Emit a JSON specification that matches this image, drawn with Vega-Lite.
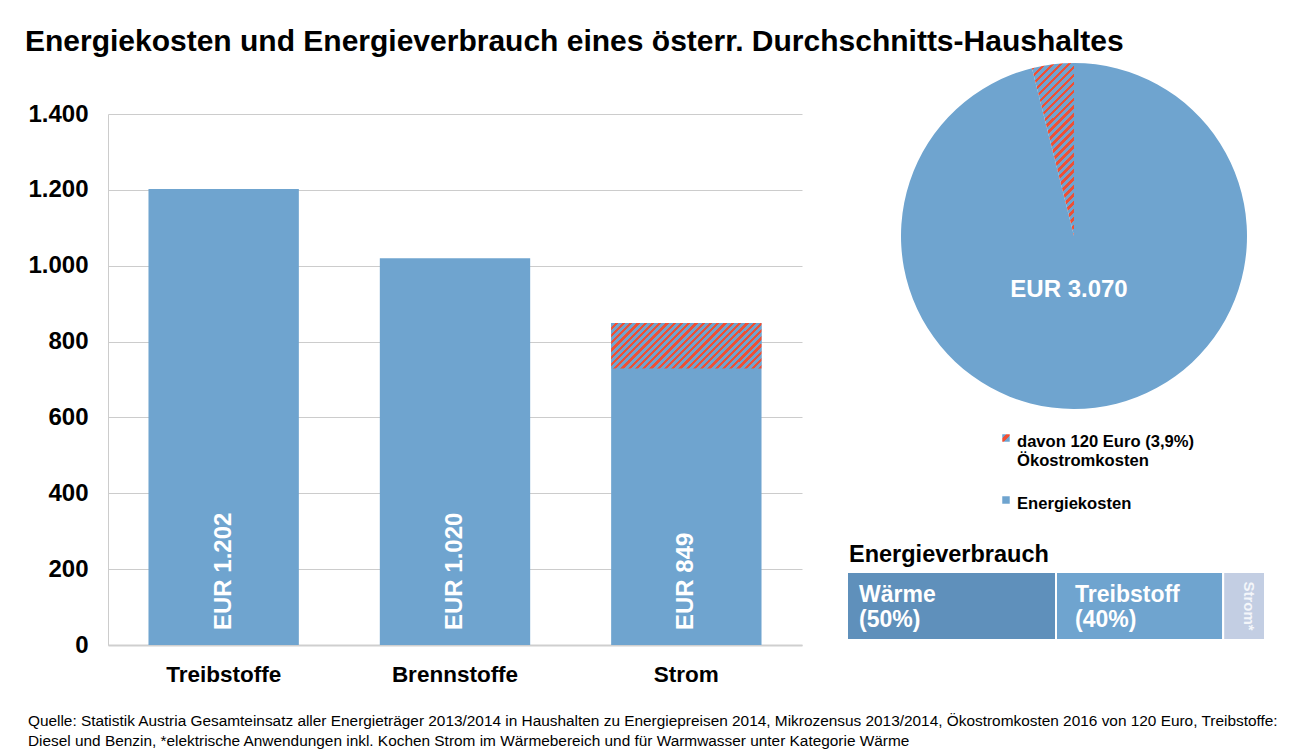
{
  "$schema": "https://vega.github.io/schema/vega-lite/v6.json",
  "padding": {"left": 24, "top": 27, "right": 0, "bottom": 0},
  "background": "white",
  "config": {
    "font": "Liberation Sans",
    "view": {"stroke": null},
    "axis": {"labelFont": "Liberation Sans", "labelColor": "black"}
  },
  "title": {
    "text": "Energiekosten und Energieverbrauch eines österr. Durchschnitts-Haushaltes",
    "anchor": "start",
    "frame": "bounds",
    "font": "Liberation Sans",
    "fontSize": 30,
    "fontWeight": "bold",
    "color": "black",
    "offset": 6,
    "dx": -3
  },
  "datasets": {
    "kosten": [
      {"kat": "Treibstoffe", "wert": 1202, "label": "EUR 1.202"},
      {"kat": "Brennstoffe", "wert": 1020, "label": "EUR 1.020"},
      {"kat": "Strom", "wert": 849, "label": "EUR 849"}
    ],
    "oeko_bar": [{"kat": "Strom", "von": 729, "bis": 849}],
    "pie": [
      {"k": "Energiekosten", "wert": 2950},
      {"k": "Ökostromkosten", "wert": 120}
    ],
    "summe": [{"t": "EUR 3.070"}],
    "legende": [
      {"k": "Ökostromkosten", "label": "davon 120 Euro (3,9%)\nÖkostromkosten"},
      {"k": "Energiekosten", "label": "Energiekosten"}
    ],
    "ev": [
      {"k": "Wärme", "wert": 50, "o": 1, "label": "Wärme\n(50%)"},
      {"k": "Treibstoff", "wert": 40, "o": 2, "label": "Treibstoff\n(40%)"},
      {"k": "Strom", "wert": 10, "o": 3, "label": "Strom*"}
    ]
  },
  "bounds": "flush",
  "spacing": 45,
  "hconcat": [
    {
      "width": 694,
      "height": 531,
      "title": {
        "text": [
          "Quelle: Statistik Austria Gesamteinsatz aller Energieträger 2013/2014 in Haushalten zu Energiepreisen 2014, Mikrozensus 2013/2014, Ökostromkosten 2016 von 120 Euro, Treibstoffe:",
          "Diesel und Benzin, *elektrische Anwendungen inkl. Kochen Strom im Wärmebereich und für Warmwasser unter Kategorie Wärme"
        ],
        "orient": "bottom",
        "anchor": "start",
        "frame": "bounds",
        "font": "Liberation Sans",
        "fontSize": 15.4,
        "fontWeight": "normal",
        "lineHeight": 20,
        "color": "black",
        "offset": 28
      },
      "layer": [
        {
          "data": {"name": "kosten"},
          "mark": {"type": "bar", "color": "#6fa4cf"},
          "encoding": {
            "x": {
              "field": "kat", "type": "nominal",
              "scale": {"domain": ["Treibstoffe", "Brennstoffe", "Strom"], "paddingInner": 0.35, "paddingOuter": 0.175},
              "axis": {"title": null, "labelAngle": 0, "labelFontSize": 22.5, "labelFontWeight": "bold", "labelPadding": 18, "ticks": false, "domainColor": "#cfcfcf", "domainWidth": 2}
            },
            "y": {
              "field": "wert", "type": "quantitative",
              "scale": {"domain": [0, 1400], "nice": false},
              "axis": {"title": null, "values": [0, 200, 400, 600, 800, 1000, 1200, 1400], "labelExpr": "replace(format(datum.value, ','), ',', '.')", "labelFontSize": 24, "labelFontWeight": "bold", "labelPadding": 20, "ticks": false, "gridColor": "#cccccc", "domainColor": "#cccccc"}
            }
          }
        },
        {
          "data": {"name": "oeko_bar"},
          "mark": {
            "type": "bar",
            "fill": {
              "gradient": "linear", "x1": 0, "y1": 0, "x2": 1.1934, "y2": 0.3617,
              "stops": [
{"offset":0,"color":"#6fa4cf"},{"offset":0.0204,"color":"#6fa4cf"},{"offset":0.0204,"color":"#ef5035"},{"offset":0.037,"color":"#ef5035"},
{"offset":0.037,"color":"#6fa4cf"},{"offset":0.0574,"color":"#6fa4cf"},{"offset":0.0574,"color":"#ef5035"},{"offset":0.0741,"color":"#ef5035"},
{"offset":0.0741,"color":"#6fa4cf"},{"offset":0.0944,"color":"#6fa4cf"},{"offset":0.0944,"color":"#ef5035"},{"offset":0.1111,"color":"#ef5035"},
{"offset":0.1111,"color":"#6fa4cf"},{"offset":0.1315,"color":"#6fa4cf"},{"offset":0.1315,"color":"#ef5035"},{"offset":0.1481,"color":"#ef5035"},
{"offset":0.1481,"color":"#6fa4cf"},{"offset":0.1685,"color":"#6fa4cf"},{"offset":0.1685,"color":"#ef5035"},{"offset":0.1852,"color":"#ef5035"},
{"offset":0.1852,"color":"#6fa4cf"},{"offset":0.2056,"color":"#6fa4cf"},{"offset":0.2056,"color":"#ef5035"},{"offset":0.2222,"color":"#ef5035"},
{"offset":0.2222,"color":"#6fa4cf"},{"offset":0.2426,"color":"#6fa4cf"},{"offset":0.2426,"color":"#ef5035"},{"offset":0.2593,"color":"#ef5035"},
{"offset":0.2593,"color":"#6fa4cf"},{"offset":0.2796,"color":"#6fa4cf"},{"offset":0.2796,"color":"#ef5035"},{"offset":0.2963,"color":"#ef5035"},
{"offset":0.2963,"color":"#6fa4cf"},{"offset":0.3167,"color":"#6fa4cf"},{"offset":0.3167,"color":"#ef5035"},{"offset":0.3333,"color":"#ef5035"},
{"offset":0.3333,"color":"#6fa4cf"},{"offset":0.3537,"color":"#6fa4cf"},{"offset":0.3537,"color":"#ef5035"},{"offset":0.3704,"color":"#ef5035"},
{"offset":0.3704,"color":"#6fa4cf"},{"offset":0.3907,"color":"#6fa4cf"},{"offset":0.3907,"color":"#ef5035"},{"offset":0.4074,"color":"#ef5035"},
{"offset":0.4074,"color":"#6fa4cf"},{"offset":0.4278,"color":"#6fa4cf"},{"offset":0.4278,"color":"#ef5035"},{"offset":0.4444,"color":"#ef5035"},
{"offset":0.4444,"color":"#6fa4cf"},{"offset":0.4648,"color":"#6fa4cf"},{"offset":0.4648,"color":"#ef5035"},{"offset":0.4815,"color":"#ef5035"},
{"offset":0.4815,"color":"#6fa4cf"},{"offset":0.5019,"color":"#6fa4cf"},{"offset":0.5019,"color":"#ef5035"},{"offset":0.5185,"color":"#ef5035"},
{"offset":0.5185,"color":"#6fa4cf"},{"offset":0.5389,"color":"#6fa4cf"},{"offset":0.5389,"color":"#ef5035"},{"offset":0.5556,"color":"#ef5035"},
{"offset":0.5556,"color":"#6fa4cf"},{"offset":0.5759,"color":"#6fa4cf"},{"offset":0.5759,"color":"#ef5035"},{"offset":0.5926,"color":"#ef5035"},
{"offset":0.5926,"color":"#6fa4cf"},{"offset":0.613,"color":"#6fa4cf"},{"offset":0.613,"color":"#ef5035"},{"offset":0.6296,"color":"#ef5035"},
{"offset":0.6296,"color":"#6fa4cf"},{"offset":0.65,"color":"#6fa4cf"},{"offset":0.65,"color":"#ef5035"},{"offset":0.6667,"color":"#ef5035"},
{"offset":0.6667,"color":"#6fa4cf"},{"offset":0.687,"color":"#6fa4cf"},{"offset":0.687,"color":"#ef5035"},{"offset":0.7037,"color":"#ef5035"},
{"offset":0.7037,"color":"#6fa4cf"},{"offset":0.7241,"color":"#6fa4cf"},{"offset":0.7241,"color":"#ef5035"},{"offset":0.7407,"color":"#ef5035"},
{"offset":0.7407,"color":"#6fa4cf"},{"offset":0.7611,"color":"#6fa4cf"},{"offset":0.7611,"color":"#ef5035"},{"offset":0.7778,"color":"#ef5035"},
{"offset":0.7778,"color":"#6fa4cf"},{"offset":0.7981,"color":"#6fa4cf"},{"offset":0.7981,"color":"#ef5035"},{"offset":0.8148,"color":"#ef5035"},
{"offset":0.8148,"color":"#6fa4cf"},{"offset":0.8352,"color":"#6fa4cf"},{"offset":0.8352,"color":"#ef5035"},{"offset":0.8519,"color":"#ef5035"},
{"offset":0.8519,"color":"#6fa4cf"},{"offset":0.8722,"color":"#6fa4cf"},{"offset":0.8722,"color":"#ef5035"},{"offset":0.8889,"color":"#ef5035"},
{"offset":0.8889,"color":"#6fa4cf"},{"offset":0.9093,"color":"#6fa4cf"},{"offset":0.9093,"color":"#ef5035"},{"offset":0.9259,"color":"#ef5035"},
{"offset":0.9259,"color":"#6fa4cf"},{"offset":0.9463,"color":"#6fa4cf"},{"offset":0.9463,"color":"#ef5035"},{"offset":0.963,"color":"#ef5035"},
{"offset":0.963,"color":"#6fa4cf"},{"offset":0.9833,"color":"#6fa4cf"},{"offset":0.9833,"color":"#ef5035"},{"offset":1,"color":"#ef5035"}
              ]
            }
          },
          "encoding": {
            "x": {"field": "kat", "type": "nominal"},
            "y": {"field": "von", "type": "quantitative"},
            "y2": {"field": "bis"}
          }
        },
        {
          "data": {"name": "kosten"},
          "mark": {"type": "text", "angle": 270, "align": "left", "baseline": "middle", "dx": 15, "font": "Liberation Sans", "fontSize": 24, "fontWeight": "bold", "color": "white"},
          "encoding": {
            "x": {"field": "kat", "type": "nominal"},
            "y": {"datum": 0, "type": "quantitative"},
            "text": {"field": "label"}
          }
        }
      ]
    },
    {
      "bounds": "flush",
      "spacing": 80,
      "vconcat": [
        {
          "width": 454,
          "height": 244,
          "layer": [
            {
              "data": {"name": "pie"},
              "mark": {"type": "arc", "outerRadius": 173},
              "encoding": {
                "theta": {"field": "wert", "type": "quantitative", "stack": true},
                "order": {"field": "k", "sort": "ascending"},
                "color": {
                  "condition": {
                    "test": "datum.k === 'Ökostromkosten'",
                    "value": {
                      "gradient": "linear", "x1": 0, "y1": 0, "x2": 0.2849, "y2": 1.1734,
                      "stops": [
{"offset":0,"color":"#6fa4cf"},{"offset":0.0204,"color":"#6fa4cf"},{"offset":0.0204,"color":"#ef5035"},{"offset":0.037,"color":"#ef5035"},
{"offset":0.037,"color":"#6fa4cf"},{"offset":0.0574,"color":"#6fa4cf"},{"offset":0.0574,"color":"#ef5035"},{"offset":0.0741,"color":"#ef5035"},
{"offset":0.0741,"color":"#6fa4cf"},{"offset":0.0944,"color":"#6fa4cf"},{"offset":0.0944,"color":"#ef5035"},{"offset":0.1111,"color":"#ef5035"},
{"offset":0.1111,"color":"#6fa4cf"},{"offset":0.1315,"color":"#6fa4cf"},{"offset":0.1315,"color":"#ef5035"},{"offset":0.1481,"color":"#ef5035"},
{"offset":0.1481,"color":"#6fa4cf"},{"offset":0.1685,"color":"#6fa4cf"},{"offset":0.1685,"color":"#ef5035"},{"offset":0.1852,"color":"#ef5035"},
{"offset":0.1852,"color":"#6fa4cf"},{"offset":0.2056,"color":"#6fa4cf"},{"offset":0.2056,"color":"#ef5035"},{"offset":0.2222,"color":"#ef5035"},
{"offset":0.2222,"color":"#6fa4cf"},{"offset":0.2426,"color":"#6fa4cf"},{"offset":0.2426,"color":"#ef5035"},{"offset":0.2593,"color":"#ef5035"},
{"offset":0.2593,"color":"#6fa4cf"},{"offset":0.2796,"color":"#6fa4cf"},{"offset":0.2796,"color":"#ef5035"},{"offset":0.2963,"color":"#ef5035"},
{"offset":0.2963,"color":"#6fa4cf"},{"offset":0.3167,"color":"#6fa4cf"},{"offset":0.3167,"color":"#ef5035"},{"offset":0.3333,"color":"#ef5035"},
{"offset":0.3333,"color":"#6fa4cf"},{"offset":0.3537,"color":"#6fa4cf"},{"offset":0.3537,"color":"#ef5035"},{"offset":0.3704,"color":"#ef5035"},
{"offset":0.3704,"color":"#6fa4cf"},{"offset":0.3907,"color":"#6fa4cf"},{"offset":0.3907,"color":"#ef5035"},{"offset":0.4074,"color":"#ef5035"},
{"offset":0.4074,"color":"#6fa4cf"},{"offset":0.4278,"color":"#6fa4cf"},{"offset":0.4278,"color":"#ef5035"},{"offset":0.4444,"color":"#ef5035"},
{"offset":0.4444,"color":"#6fa4cf"},{"offset":0.4648,"color":"#6fa4cf"},{"offset":0.4648,"color":"#ef5035"},{"offset":0.4815,"color":"#ef5035"},
{"offset":0.4815,"color":"#6fa4cf"},{"offset":0.5019,"color":"#6fa4cf"},{"offset":0.5019,"color":"#ef5035"},{"offset":0.5185,"color":"#ef5035"},
{"offset":0.5185,"color":"#6fa4cf"},{"offset":0.5389,"color":"#6fa4cf"},{"offset":0.5389,"color":"#ef5035"},{"offset":0.5556,"color":"#ef5035"},
{"offset":0.5556,"color":"#6fa4cf"},{"offset":0.5759,"color":"#6fa4cf"},{"offset":0.5759,"color":"#ef5035"},{"offset":0.5926,"color":"#ef5035"},
{"offset":0.5926,"color":"#6fa4cf"},{"offset":0.613,"color":"#6fa4cf"},{"offset":0.613,"color":"#ef5035"},{"offset":0.6296,"color":"#ef5035"},
{"offset":0.6296,"color":"#6fa4cf"},{"offset":0.65,"color":"#6fa4cf"},{"offset":0.65,"color":"#ef5035"},{"offset":0.6667,"color":"#ef5035"},
{"offset":0.6667,"color":"#6fa4cf"},{"offset":0.687,"color":"#6fa4cf"},{"offset":0.687,"color":"#ef5035"},{"offset":0.7037,"color":"#ef5035"},
{"offset":0.7037,"color":"#6fa4cf"},{"offset":0.7241,"color":"#6fa4cf"},{"offset":0.7241,"color":"#ef5035"},{"offset":0.7407,"color":"#ef5035"},
{"offset":0.7407,"color":"#6fa4cf"},{"offset":0.7611,"color":"#6fa4cf"},{"offset":0.7611,"color":"#ef5035"},{"offset":0.7778,"color":"#ef5035"},
{"offset":0.7778,"color":"#6fa4cf"},{"offset":0.7981,"color":"#6fa4cf"},{"offset":0.7981,"color":"#ef5035"},{"offset":0.8148,"color":"#ef5035"},
{"offset":0.8148,"color":"#6fa4cf"},{"offset":0.8352,"color":"#6fa4cf"},{"offset":0.8352,"color":"#ef5035"},{"offset":0.8519,"color":"#ef5035"},
{"offset":0.8519,"color":"#6fa4cf"},{"offset":0.8722,"color":"#6fa4cf"},{"offset":0.8722,"color":"#ef5035"},{"offset":0.8889,"color":"#ef5035"},
{"offset":0.8889,"color":"#6fa4cf"},{"offset":0.9093,"color":"#6fa4cf"},{"offset":0.9093,"color":"#ef5035"},{"offset":0.9259,"color":"#ef5035"},
{"offset":0.9259,"color":"#6fa4cf"},{"offset":0.9463,"color":"#6fa4cf"},{"offset":0.9463,"color":"#ef5035"},{"offset":0.963,"color":"#ef5035"},
{"offset":0.963,"color":"#6fa4cf"},{"offset":0.9833,"color":"#6fa4cf"},{"offset":0.9833,"color":"#ef5035"},{"offset":1,"color":"#ef5035"}
                      ]
                    }
                  },
                  "value": "#6fa4cf"
                }
              }
            },
            {
              "data": {"name": "summe"},
              "mark": {"type": "text", "dx": -5, "dy": 54, "align": "center", "baseline": "middle", "font": "Liberation Sans", "fontSize": 24, "fontWeight": "bold", "color": "white"},
              "encoding": {"text": {"field": "t"}}
            }
          ]
        },
        {
          "bounds": "flush",
          "spacing": 72,
          "vconcat": [
            {
              "width": 318,
              "height": 62,
              "data": {"name": "legende"},
              "layer": [
                {
                  "transform": [{"filter": "datum.k === 'Energiekosten'"}],
                  "mark": {"type": "square", "size": 56, "color": "#6fa4cf", "opacity": 1},
                  "encoding": {
                    "y": {"field": "k", "type": "nominal", "scale": {"type": "point", "padding": 0, "domain": ["Ökostromkosten", "Energiekosten"]}, "axis": null}
                  }
                },
                {
                  "transform": [{"filter": "datum.k === 'Ökostromkosten'"}],
                  "mark": {
                    "type": "square", "size": 56, "opacity": 1,
                    "fill": {
                      "gradient": "linear", "x1": 0, "y1": 0, "x2": 1, "y2": 1,
                      "stops": [
                        {"offset": 0, "color": "#6fa4cf"}, {"offset": 0.25, "color": "#6fa4cf"},
                        {"offset": 0.25, "color": "#ef5035"}, {"offset": 0.6, "color": "#ef5035"},
                        {"offset": 0.6, "color": "#6fa4cf"}, {"offset": 1, "color": "#6fa4cf"}
                      ]
                    }
                  },
                  "encoding": {
                    "y": {"field": "k", "type": "nominal"}
                  }
                },
                {
                  "mark": {"type": "text", "align": "left", "baseline": "alphabetic", "dx": 11, "dy": 9, "lineBreak": "\n", "lineHeight": 18.5, "font": "Liberation Sans", "fontSize": 16.6, "fontWeight": "bold", "color": "black"},
                  "encoding": {
                    "y": {"field": "k", "type": "nominal"},
                    "text": {"field": "label"}
                  }
                }
              ]
            },
            {
              "width": 418,
              "height": 68,
              "title": {"text": "Energieverbrauch", "anchor": "start", "frame": "group", "font": "Liberation Sans", "fontSize": 23.5, "fontWeight": "bold", "color": "black", "offset": 5, "dx": 2},
              "data": {"name": "ev"},
              "transform": [{"stack": "wert", "groupby": [], "sort": [{"field": "o", "order": "ascending"}], "as": ["x0", "x1"]}],
              "layer": [
                {
                  "mark": {"type": "bar", "stroke": "white", "strokeWidth": 2, "opacity": 1},
                  "encoding": {
                    "x": {"field": "x0", "type": "quantitative", "scale": {"domain": [0, 100], "nice": false}, "axis": null},
                    "x2": {"field": "x1"},
                    "y": {"datum": "Energieverbrauch", "type": "nominal", "scale": {"paddingInner": 0, "paddingOuter": 0}, "axis": null},
                    "color": {"field": "k", "type": "nominal", "scale": {"domain": ["Wärme", "Treibstoff", "Strom"], "range": ["#5f90bb", "#6fa4cf", "#c3cee3"]}, "legend": null}
                  }
                },
                {
                  "transform": [{"filter": "datum.k === 'Wärme'"}],
                  "mark": {"type": "text", "align": "left", "baseline": "middle", "dx": 12, "dy": -11, "lineBreak": "\n", "lineHeight": 25, "font": "Liberation Sans", "fontSize": 23, "fontWeight": "bold", "color": "white"},
                  "encoding": {"x": {"field": "x0", "type": "quantitative"}, "y": {"datum": "Energieverbrauch", "type": "nominal"}, "text": {"field": "label"}}
                },
                {
                  "transform": [{"filter": "datum.k === 'Treibstoff'"}],
                  "mark": {"type": "text", "align": "left", "baseline": "middle", "dx": 19, "dy": -11, "lineBreak": "\n", "lineHeight": 25, "font": "Liberation Sans", "fontSize": 23, "fontWeight": "bold", "color": "white"},
                  "encoding": {"x": {"field": "x0", "type": "quantitative"}, "y": {"datum": "Energieverbrauch", "type": "nominal"}, "text": {"field": "label"}}
                },
                {
                  "transform": [{"filter": "datum.k === 'Strom'"}],
                  "mark": {"type": "text", "angle": 90, "align": "center", "baseline": "middle", "dy": -26, "font": "Liberation Sans", "fontSize": 15, "fontWeight": "bold", "color": "#f4f6fa"},
                  "encoding": {"x": {"field": "x0", "type": "quantitative"}, "y": {"datum": "Energieverbrauch", "type": "nominal"}, "text": {"field": "label"}}
                }
              ]
            }
          ]
        }
      ]
    }
  ]
}
